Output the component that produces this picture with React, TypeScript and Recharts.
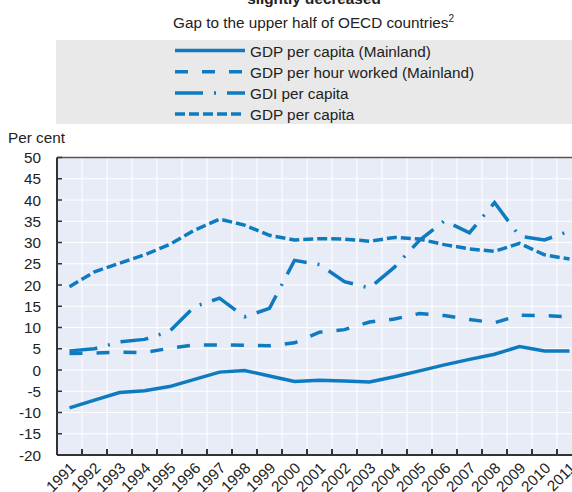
import React from 'react';
import { LineChart, Line, XAxis, YAxis, CartesianGrid, ReferenceLine } from 'recharts';

const years = [1991, 1992, 1993, 1994, 1995, 1996, 1997, 1998, 1999, 2000, 2001, 2002, 2003, 2004, 2005, 2006, 2007, 2008, 2009, 2010, 2011];
const gdpMainland = [-8.9, -7.1, -5.3, -4.9, -3.9, -2.2, -0.5, -0.1, -1.4, -2.7, -2.4, -2.6, -2.8, -1.6, -0.2, 1.2, 2.5, 3.7, 5.5, 4.5, 4.5];
const gdpHourMainland = [3.9, 4.0, 4.2, 4.1, 5.1, 5.9, 5.9, 5.8, 5.7, 6.4, 8.9, 9.5, 11.3, 12.0, 13.3, 12.8, 11.9, 11.1, 12.9, 12.8, 12.5];
const gdiPerCapita = [4.5, 5.0, 6.6, 7.2, 9.1, 14.9, 16.9, 12.5, 14.5, 25.8, 24.8, 20.8, 19.3, 24.2, 30.5, 35.1, 32.3, 39.4, 31.5, 30.6, 32.7];
const gdpPerCapita = [19.6, 23.1, 25.1, 27.1, 29.5, 32.9, 35.5, 34.1, 31.7, 30.6, 30.9, 30.8, 30.3, 31.2, 30.8, 29.5, 28.5, 27.9, 29.8, 27.1, 26.1];

const yTicks = [-20, -15, -10, -5, 0, 5, 10, 15, 20, 25, 30, 35, 40, 45, 50];
const seriesNames = ['GDP per capita (Mainland)', 'GDP per hour worked (Mainland)', 'GDI per capita', 'GDP per capita'];
const seriesKeys = ['gdpMainland', 'gdpHourMainland', 'gdiPerCapita', 'gdpPerCapita'];
const seriesDash = ['', '13 14', '28 11 2 11', '10 4'];

const titleBold = 'slightly decreased';
const subtitle = 'Gap to the upper half of OECD countries';
const yLabel = 'Per cent';

const data = years.map((y, i) => ({
  year: y,
  gdpMainland: gdpMainland[i],
  gdpHourMainland: gdpHourMainland[i],
  gdiPerCapita: gdiPerCapita[i],
  gdpPerCapita: gdpPerCapita[i],
}));

const boundaryTicks = [years[0] - 0.5, ...years.map((y) => y + 0.5)];
const labelTicks = [...years, ...years.map((y) => y + 0.5)].sort((a, b) => a - b);

const BLUE = '#0E7BC1';
const DARK = '#333333';
const TEXT = '#222222';
const FONT = '"Liberation Sans", Arial, Helvetica, sans-serif';
const FS = 15.3;

const XTick = (props: any) => {
  const { x, y, payload } = props;
  const v = payload.value;
  if (Number.isInteger(v)) {
    const ax = x + 7;
    const ay = y + 14;
    return (
      <text x={ax} y={ay} textAnchor="end" fontSize={FS} fontFamily={FONT} fill={TEXT} transform={`rotate(-45, ${ax}, ${ay})`}>
        {v}
      </text>
    );
  }
  return <line x1={x} x2={x} y1={y} y2={y - 6} stroke={DARK} strokeWidth={2} />;
};

const YTick = (props: any) => {
  const { x, y, payload } = props;
  return (
    <g>
      <line x1={x} x2={x + 5} y1={y} y2={y} stroke={DARK} strokeWidth={1.5} />
      <text x={x - 16} y={y} dy={5.5} textAnchor="end" fontSize={FS} fontFamily={FONT} fill={TEXT}>
        {payload.value}
      </text>
    </g>
  );
};

const Header = () => (
  <svg width={572} height={152} style={{ position: 'absolute', left: 0, top: 0, pointerEvents: 'none' }}>
    <text x={314} y={4} textAnchor="middle" fontSize={FS} fontWeight="bold" fontFamily={FONT} fill={TEXT}>
      {titleBold}
    </text>
    <text x={173} y={27.5} fontSize={FS} fontFamily={FONT} fill={TEXT}>
      {subtitle}
      <tspan fontSize={10} dy={-6}>2</tspan>
    </text>
    <rect x={56} y={40} width={520} height={84} fill="#E9E9E9" />
    {seriesNames.map((name, i) => {
      const base = 56.5 + 21.2 * i;
      return (
        <g key={name}>
          <line x1={175} x2={245} y1={base - 6} y2={base - 6} stroke={BLUE} strokeWidth={3.5} strokeDasharray={seriesDash[i] || undefined} />
          <text x={250} y={base} fontSize={FS} fontFamily={FONT} fill={TEXT}>
            {name}
          </text>
        </g>
      );
    })}
    <text x={8} y={143} fontSize={FS} fontFamily={FONT} fill={TEXT}>
      {yLabel}
    </text>
  </svg>
);

export default function App() {
  const domain = [years[0] - 0.5, years[years.length - 1] + 0.5];
  return (
    <div style={{ position: 'fixed', left: 0, top: 0, width: 572, height: 492, overflow: 'hidden', background: '#fff' }}>
      <div style={{ position: 'absolute', left: 0, top: 0 }}>
        <LineChart width={600} height={492} data={data} margin={{ top: 157.5, right: 18, bottom: 0, left: 0 }}>
          <XAxis
            xAxisId="l"
            dataKey="year"
            type="number"
            domain={domain}
            ticks={labelTicks}
            interval={0}
            height={37}
            tickSize={0}
            tickMargin={0}
            tickLine={false}
            axisLine={{ stroke: DARK, strokeWidth: 2 }}
            tick={<XTick />}
          />
          <XAxis xAxisId="g" dataKey="year" type="number" domain={domain} ticks={boundaryTicks} interval={0} height={0} hide />
          <YAxis
            type="number"
            domain={[-20, 50]}
            ticks={yTicks}
            interval={0}
            width={57}
            tickSize={0}
            tickMargin={0}
            tickLine={false}
            axisLine={{ stroke: DARK, strokeWidth: 2 }}
            tick={<YTick />}
          />
          <CartesianGrid xAxisId="g" stroke="#FFFFFF" strokeWidth={1} fill="#E8ECF7" fillOpacity={1} />
          <ReferenceLine xAxisId="l" y={50} stroke="#555555" strokeWidth={1.5} />
          {seriesKeys.map((k, i) => (
            <Line
              key={k}
              xAxisId="l"
              type="linear"
              dataKey={k}
              stroke={BLUE}
              strokeWidth={3.5}
              strokeDasharray={seriesDash[i] || undefined}
              dot={false}
              activeDot={false}
              isAnimationActive={false}
            />
          ))}
        </LineChart>
      </div>
      <Header />
    </div>
  );
}
